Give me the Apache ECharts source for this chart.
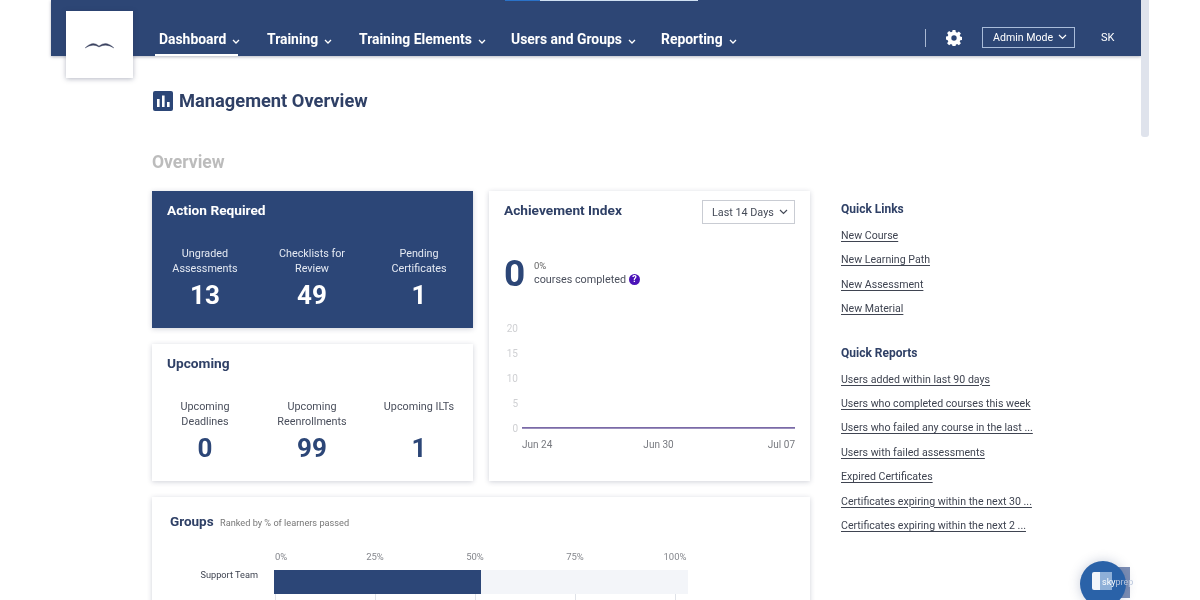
<!DOCTYPE html>
<html><head><meta charset="utf-8"><title>Management Overview</title>
<script src="https://cdn.jsdelivr.net/npm/echarts@6/dist/echarts.min.js"></script>
<style>
html,body{margin:0;padding:0;width:1200px;height:600px;overflow:hidden;background:#fff;font-family:Roboto,sans-serif}
body{filter:blur(.35px)}
.a{position:absolute;white-space:nowrap}
.c{transform:translateX(-50%);text-align:center}
.card{position:absolute;background:#fff;box-shadow:0 1px 5px rgba(40,50,80,.22)}
.nav{top:30px;font-size:13.9px;font-weight:700;color:#fff;line-height:18px}
.nav svg{margin-left:6px;vertical-align:-1px}
.h{font-weight:700;font-size:13.7px;color:#2f4066;line-height:18px}
.lbl{font-size:10.8px;line-height:15px;color:#4a4f5c}
.big{font-size:26px;font-weight:700;line-height:30px;color:#2c4677}
.w{color:#fff}
.lnk{left:841px;font-size:10.6px;line-height:14px;color:#3f4451;text-decoration:underline;text-underline-offset:2px}
</style></head><body>
<div class="a" style="left:51px;top:0;width:1090px;height:56px;background:#2d4675;box-shadow:0 1px 3px rgba(40,50,80,.35)"></div>
<div class="a" style="left:505px;top:0;width:35px;height:1px;background:#2a72c8"></div>
<div class="a" style="left:540px;top:0;width:158px;height:1px;background:#cfe0f2"></div>
<div class="a" style="left:1141px;top:0;width:8px;height:137px;background:#dfe3ec;border-radius:0 0 3px 3px"></div>
<div class="card" style="left:66px;top:11px;width:67px;height:67px;box-shadow:0 1px 5px rgba(40,50,80,.35)">
<svg width="67" height="67"><path d="M19 37 Q27 29 33 35 Q40 29 48 37 Q40 32 33 36 Q27 32 19 37Z" fill="#3a4260" stroke="#3a4260" stroke-width=".3"/></svg></div>
<div class="a nav" style="left:159px">Dashboard<svg width="8" height="6"><path d="M1 1l3 3 3-3" fill="none" stroke="#fff" stroke-width="1.3"/></svg></div>
<div class="a" style="left:155px;top:54px;width:83px;height:2px;background:#fff"></div>
<div class="a nav" style="left:267px">Training<svg width="8" height="6"><path d="M1 1l3 3 3-3" fill="none" stroke="#fff" stroke-width="1.3"/></svg></div>
<div class="a nav" style="left:359px">Training Elements<svg width="8" height="6"><path d="M1 1l3 3 3-3" fill="none" stroke="#fff" stroke-width="1.3"/></svg></div>
<div class="a nav" style="left:511px">Users and Groups<svg width="8" height="6"><path d="M1 1l3 3 3-3" fill="none" stroke="#fff" stroke-width="1.3"/></svg></div>
<div class="a nav" style="left:661px">Reporting<svg width="8" height="6"><path d="M1 1l3 3 3-3" fill="none" stroke="#fff" stroke-width="1.3"/></svg></div>
<div class="a" style="left:925px;top:29px;width:1px;height:18px;background:#a9b8d2"></div>
<svg class="a" style="left:946px;top:30px" width="16" height="16" viewBox="0 0 16 16"><path d="M6.6 0h2.8l.4 2.1 1.3.6 1.8-1.2 2 2-1.2 1.8.6 1.3 2.1.4v2.8l-2.1.4-.6 1.3 1.2 1.8-2 2-1.8-1.2-1.3.6-.4 2.1H6.6l-.4-2.1-1.3-.6-1.8 1.2-2-2 1.2-1.8-.6-1.3L-.4 9.4V6.6l2.1-.4.6-1.3L1.1 3.1l2-2 1.8 1.2 1.3-.6z" fill="#fff"/><circle cx="8" cy="8" r="2.7" fill="#2d4675"/></svg>
<div class="a" style="left:982px;top:27px;width:91px;height:19px;border:1px solid #a9bcd9;color:#fff;font-size:10.6px;line-height:20px;text-indent:10px">Admin Mode<svg width="9" height="6" style="margin-left:5px;vertical-align:1px"><path d="M1 1l3.5 3.5L8 1" fill="none" stroke="#fff" stroke-width="1.2"/></svg></div>
<div class="a w" style="left:1101px;top:31px;font-size:11px;line-height:14px">SK</div>

<svg class="a" style="left:153px;top:91px" width="20" height="20"><rect width="20" height="20" rx="2" fill="#2c4677"/><rect x="4" y="8" width="2.6" height="8" fill="#fff"/><rect x="9" y="4.5" width="2.6" height="11.5" fill="#fff"/><rect x="14" y="11" width="2.6" height="5" fill="#fff"/></svg>
<div class="a" style="left:179px;top:89px;font-size:18.3px;font-weight:700;line-height:23px;color:#2f4066">Management Overview</div>
<div class="a" style="left:152px;top:151.5px;font-size:17.5px;font-weight:700;line-height:21px;color:#bcbcbc">Overview</div>

<div class="card" style="left:152px;top:191px;width:321px;height:137px;background:#2c4677"></div>
<div class="a h w" style="left:167px;top:201px;color:#fff">Action Required</div>
<div class="a lbl c" style="left:205px;top:246px;color:#e4e9f2">Ungraded<br>Assessments</div>
<div class="a lbl c" style="left:312px;top:246px;color:#e4e9f2">Checklists for<br>Review</div>
<div class="a lbl c" style="left:419px;top:246px;color:#e4e9f2">Pending<br>Certificates</div>
<div class="a big c w" style="left:205px;top:280px;color:#fff">13</div>
<div class="a big c w" style="left:312px;top:280px;color:#fff">49</div>
<div class="a big c w" style="left:419px;top:280px;color:#fff">1</div>

<div class="card" style="left:152px;top:344px;width:321px;height:137px"></div>
<div class="a h" style="left:167px;top:354px">Upcoming</div>
<div class="a lbl c" style="left:205px;top:399px">Upcoming<br>Deadlines</div>
<div class="a lbl c" style="left:312px;top:399px">Upcoming<br>Reenrollments</div>
<div class="a lbl c" style="left:419px;top:399px">Upcoming ILTs</div>
<div class="a big c" style="left:205px;top:433px">0</div>
<div class="a big c" style="left:312px;top:433px">99</div>
<div class="a big c" style="left:419px;top:433px">1</div>

<div class="card" style="left:489px;top:191px;width:321px;height:290px"></div>
<div class="a h" style="left:504px;top:201px">Achievement Index</div>
<div class="a" style="left:702px;top:200px;width:91px;height:22px;border:1px solid #c9ccd3;font-size:10.8px;line-height:23px;color:#444a57;text-indent:9px">Last 14 Days<svg width="9" height="6" style="margin-left:5px;vertical-align:1px"><path d="M1 1l3.5 3.5L8 1" fill="none" stroke="#444a57" stroke-width="1.2"/></svg></div>
<div class="a" style="left:504px;top:252px;font-size:37px;font-weight:700;line-height:43px;color:#2c4677">0</div>
<div class="a" style="left:534px;top:260px;font-size:9.5px;line-height:12px;color:#666">0%</div>
<div class="a lbl" style="left:534px;top:272px">courses completed</div>
<div class="a" style="left:629px;top:274px;width:11px;height:11px;border-radius:50%;background:#4a12b8;color:#fff;font-size:9px;font-weight:700;line-height:11px;text-align:center">?</div>

<div class="card" style="left:152px;top:497px;width:658px;height:120px"></div>
<div class="a h" style="left:170px;top:512px;font-size:13.5px">Groups</div>
<div class="a" style="left:220px;top:517px;font-size:9.2px;line-height:12px;color:#777">Ranked by % of learners passed</div>

<div class="a h" style="left:841px;top:200px;font-size:12px">Quick Links</div>
<div class="a lnk" style="top:229px">New Course</div>
<div class="a lnk" style="top:253px">New Learning Path</div>
<div class="a lnk" style="top:278px">New Assessment</div>
<div class="a lnk" style="top:302px">New Material</div>
<div class="a h" style="left:841px;top:343.5px;font-size:12px">Quick Reports</div>
<div class="a lnk" style="top:372.5px">Users added within last 90 days</div>
<div class="a lnk" style="top:397px">Users who completed courses this week</div>
<div class="a lnk" style="top:421px">Users who failed any course in the last ...</div>
<div class="a lnk" style="top:445.5px">Users with failed assessments</div>
<div class="a lnk" style="top:470px">Expired Certificates</div>
<div class="a lnk" style="top:494.5px">Certificates expiring within the next 30 ...</div>
<div class="a lnk" style="top:519px">Certificates expiring within the next 2 ...</div>

<div class="a" style="left:1100px;top:567px;width:30px;height:31px;background:#7d8fb5"></div>
<div class="a" style="left:1080px;top:561px;width:46px;height:46px;border-radius:50%;background:#2a62a8;box-shadow:0 0 12px rgba(40,60,110,.25)"></div>
<div class="a" style="left:1092px;top:572px;width:8px;height:18px;background:#f2f5fa;border-radius:2px 0 0 2px"></div>
<div class="a" style="left:1100px;top:572px;width:12px;height:18px;background:#8fb0d8"></div>
<div class="a" style="left:1102px;top:577px;font-size:9px;line-height:11px;color:#fff">sky<span style="color:#b9c6dd">prep</span></div>

<div id="chart" class="a" style="left:0;top:0;width:1200px;height:600px"></div>
<script>
const achievementDates = ['Jun 24', 'Jun 30', 'Jul 07'];
const coursesCompleted = [0, 0, 0];
const achievementTicks = [0, 5, 10, 15, 20];
const groupNames = ['Support Team', ''];
const groupPassed = [50];
const groupNotPassed = [50];
const percentTicks = [0, 25, 50, 75, 100];

const chart = echarts.init(document.getElementById('chart'), null, {renderer: 'svg'});
chart.setOption({
  backgroundColor: 'transparent',
  animation: false,
  grid: [
    {left: 522, top: 328, width: 273, height: 100, outerBoundsMode: 'none'},
    {left: 274, top: 570, width: 414, height: 48, outerBoundsMode: 'none'},
    {left: 275, top: 570, width: 400, height: 48, outerBoundsMode: 'none'}
  ],
  xAxis: [
    {gridIndex: 0, type: 'category', boundaryGap: false, data: achievementDates,
     axisLine: {show: false}, axisTick: {show: false},
     axisLabel: {interval: 0, margin: 11, fontFamily: 'Roboto', fontSize: 10, color: '#77797f',
                 alignMinLabel: 'left', alignMaxLabel: 'right'}},
    {gridIndex: 1, type: 'value', min: 0, max: 100, show: false},
    {gridIndex: 2, type: 'value', position: 'top', min: percentTicks[0], max: percentTicks[4], interval: percentTicks[1],
     axisLine: {show: false}, axisTick: {show: false},
     splitLine: {show: true, lineStyle: {color: '#dfe2e8', width: 1}},
     axisLabel: {margin: 9, fontFamily: 'Roboto', fontSize: 9.5, color: '#85878d', formatter: '{value}%',
                 alignMinLabel: 'left'}}
  ],
  yAxis: [
    {gridIndex: 0, type: 'value', min: achievementTicks[0], max: achievementTicks[4], interval: achievementTicks[1],
     axisLine: {show: false}, axisTick: {show: false}, splitLine: {show: false},
     axisLabel: {margin: 4, fontFamily: 'Roboto', fontSize: 10, color: '#cfd0d3'}},
    {gridIndex: 1, type: 'category', inverse: true, data: groupNames,
     axisLine: {show: false}, axisTick: {show: false}, splitLine: {show: false},
     axisLabel: {margin: 16, fontFamily: 'Roboto', fontSize: 9.2, color: '#3f4451', verticalAlign: 'bottom', padding: [0, 0, 3, 0]}},
    {gridIndex: 2, type: 'value', show: false}
  ],
  series: [
    {type: 'line', xAxisIndex: 0, yAxisIndex: 0, data: coursesCompleted, showSymbol: false,
     lineStyle: {color: '#4f3a8a', width: 1.6}},
    {type: 'bar', xAxisIndex: 1, yAxisIndex: 1, stack: 'g', data: groupPassed, barWidth: 24,
     itemStyle: {color: '#2c4677'}},
    {type: 'bar', xAxisIndex: 1, yAxisIndex: 1, stack: 'g', data: groupNotPassed, barWidth: 24,
     itemStyle: {color: '#f3f5f9'}}
  ]
});
</script>
</body></html>
